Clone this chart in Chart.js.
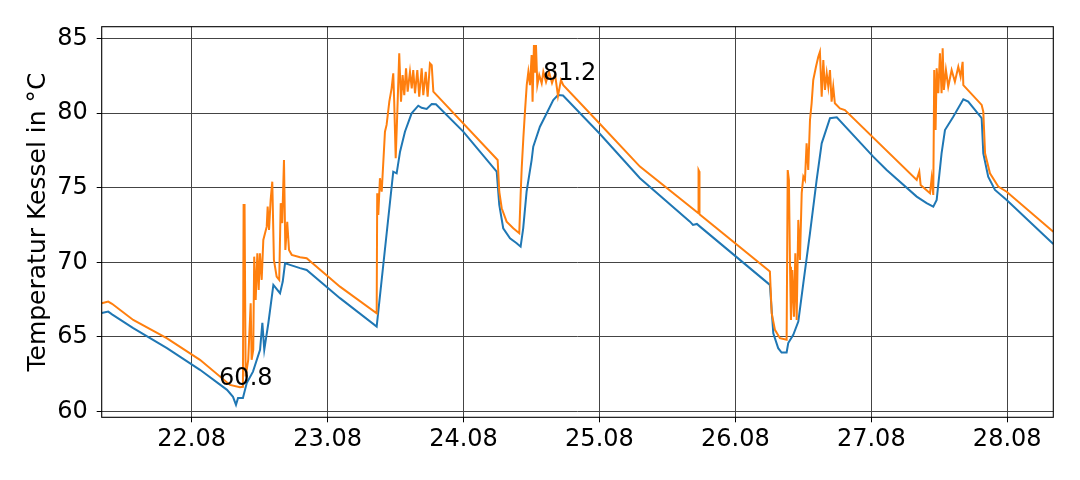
<!DOCTYPE html>
<html>
<head>
<meta charset="utf-8">
<script src="https://cdn.jsdelivr.net/npm/chart.js@4.4.1/dist/chart.umd.min.js"></script>
<style>
  html, body { margin: 0; padding: 0; background: #fff; }
  #chart { display: block; }
</style>
</head>
<body>
<canvas id="chart" width="1080" height="480"></canvas>
<script>
// time axis: days since 21.08 00:00
var tickDays = [1, 2, 3, 4, 5, 6, 7];
var tickLabels = ['22.08', '23.08', '24.08', '25.08', '26.08', '27.08', '28.08'];
var yTicks = [60, 65, 70, 75, 80, 85];

// blue series (Kessel unten)
var blueTime = [0.338, 0.386, 0.414, 0.570, 0.818, 1.061, 1.260, 1.304, 1.326, 1.341,
  1.377, 1.405, 1.451, 1.503, 1.520, 1.534, 1.564, 1.601, 1.650, 1.670,
  1.687, 1.723, 1.797, 1.846, 2.091, 2.361, 2.483, 2.508, 2.533, 2.569,
  2.618, 2.667, 2.692, 2.729, 2.766, 2.797, 2.998, 3.244, 3.263, 3.292,
  3.342, 3.391, 3.420, 3.439, 3.464, 3.501, 3.513, 3.562, 3.612, 3.660,
  3.695, 3.732, 4.004, 4.298, 4.666, 4.688, 4.717, 4.740, 5.254, 5.279,
  5.315, 5.340, 5.377, 5.389, 5.426, 5.463, 5.500, 5.549, 5.598, 5.635,
  5.696, 5.746, 6.014, 6.113, 6.334, 6.407, 6.456, 6.481, 6.517, 6.542,
  6.603, 6.677, 6.713, 6.812, 6.824, 6.860, 6.910, 6.996, 7.339];
var blueTemp = [66.61, 66.70, 66.51, 65.59, 64.25, 62.80, 61.46, 60.99, 60.46, 60.92,
  60.92, 61.91, 62.68, 64.14, 65.94, 64.14, 65.92, 68.49, 67.93, 68.71,
  69.94, 69.83, 69.61, 69.49, 67.60, 65.70, 76.07, 75.96, 77.41, 78.75,
  79.98, 80.49, 80.35, 80.27, 80.60, 80.58, 78.75, 76.07, 73.84, 72.28,
  71.61, 71.28, 71.05, 72.28, 74.73, 76.85, 77.74, 79.08, 79.98, 80.87,
  81.20, 81.17, 78.59, 75.63, 72.72, 72.50, 72.57, 72.39, 68.49, 65.25,
  64.25, 63.96, 63.96, 64.59, 65.14, 66.03, 68.60, 71.95, 75.52, 77.97,
  79.65, 79.71, 77.08, 76.18, 74.40, 73.96, 73.73, 74.18, 77.30, 78.86,
  79.75, 80.92, 80.76, 79.65, 77.30, 75.74, 74.85, 74.18, 71.23];

// orange series (Kessel oben)
var orangeTime = [0.338, 0.386, 0.414, 0.570, 0.816, 1.061, 1.282, 1.355, 1.377, 1.382,
  1.389, 1.397, 1.416, 1.434, 1.441, 1.453, 1.460, 1.471, 1.483, 1.493,
  1.502, 1.515, 1.527, 1.552, 1.559, 1.569, 1.581, 1.593, 1.605, 1.625,
  1.644, 1.655, 1.666, 1.679, 1.689, 1.703, 1.716, 1.736, 1.797, 1.846,
  2.091, 2.361, 2.365, 2.373, 2.385, 2.398, 2.422, 2.434, 2.454, 2.471,
  2.483, 2.490, 2.501, 2.513, 2.527, 2.540, 2.552, 2.564, 2.577, 2.589,
  2.606, 2.619, 2.630, 2.643, 2.660, 2.674, 2.692, 2.704, 2.722, 2.736,
  2.753, 2.766, 2.778, 3.251, 3.263, 3.281, 3.317, 3.366, 3.410, 3.420,
  3.428, 3.440, 3.452, 3.465, 3.477, 3.489, 3.501, 3.508, 3.518, 3.526,
  3.533, 3.543, 3.557, 3.575, 3.587, 3.607, 3.629, 3.651, 3.673, 3.695,
  3.717, 3.734, 4.004, 4.298, 4.726, 4.729, 4.733, 4.736, 5.254, 5.267,
  5.291, 5.328, 5.377, 5.385, 5.394, 5.402, 5.409, 5.419, 5.431, 5.441,
  5.451, 5.463, 5.475, 5.488, 5.500, 5.512, 5.524, 5.536, 5.549, 5.561,
  5.573, 5.593, 5.610, 5.622, 5.635, 5.647, 5.659, 5.672, 5.684, 5.696,
  5.708, 5.720, 5.732, 5.769, 5.806, 6.334, 6.353, 6.363, 6.432, 6.444,
  6.456, 6.463, 6.473, 6.481, 6.493, 6.505, 6.517, 6.525, 6.534, 6.549,
  6.566, 6.591, 6.615, 6.640, 6.657, 6.672, 6.677, 6.812, 6.824, 6.837,
  6.873, 6.934, 6.996, 7.339];
var orangeTemp = [67.26, 67.37, 67.22, 66.14, 64.92, 63.47, 61.79, 61.64, 61.66, 73.84,
  73.84, 62.35, 63.47, 67.26, 63.47, 64.14, 70.38, 67.48, 70.61, 68.15,
  70.61, 68.82, 71.50, 72.39, 73.73, 72.17, 74.18, 75.40, 70.16, 69.04,
  68.82, 73.96, 72.62, 76.85, 70.83, 72.72, 70.83, 70.50, 70.34, 70.27,
  68.37, 66.59, 74.63, 73.18, 75.63, 74.73, 78.75, 79.20, 80.76, 81.65,
  82.66, 80.76, 76.97, 80.09, 84.00, 80.76, 82.54, 81.20, 82.99, 81.43,
  82.76, 81.65, 82.88, 81.32, 82.88, 81.09, 82.99, 81.20, 82.76, 81.09,
  83.33, 83.21, 81.43, 76.85, 74.73, 73.62, 72.72, 72.28, 71.95, 74.51,
  76.30, 78.31, 80.09, 81.87, 82.76, 81.87, 83.88, 80.76, 84.55, 82.76,
  84.55, 81.87, 82.54, 81.99, 82.76, 82.07, 82.74, 82.01, 82.61, 81.14,
  82.21, 81.87, 79.26, 76.41, 73.30, 76.18, 76.10, 73.22, 69.38, 66.59,
  65.48, 64.92, 64.81, 76.18, 75.51, 69.71, 66.14, 69.49, 66.36, 70.61,
  66.14, 72.84, 70.16, 74.63, 75.74, 75.51, 77.97, 76.18, 79.53, 80.65,
  82.21, 83.10, 83.77, 84.10, 81.09, 83.55, 81.54, 82.66, 81.76, 82.88,
  80.76, 81.76, 80.65, 80.31, 80.20, 75.52, 76.07, 75.18, 74.63, 75.63,
  74.51, 82.88, 78.86, 82.99, 81.32, 84.00, 81.32, 84.33, 81.54, 82.88,
  81.76, 82.88, 82.10, 83.10, 82.43, 83.43, 81.87, 80.54, 80.09, 77.30,
  75.96, 75.07, 74.73, 72.05];

// value labels written into the plot
var noteTime = [1.2017, 3.584];
var noteTemp = [61.79, 82.21];
var noteText = ['60.8', '81.2'];

function toPoints(xs, ys) {
  var pts = [];
  for (var i = 0; i < xs.length; i++) pts.push({x: xs[i], y: ys[i]});
  return pts;
}

var FONT = 'DejaVu Sans';
Chart.defaults.font.family = FONT;
Chart.defaults.font.size = 24;
Chart.defaults.color = '#000';

// frame round the plot area + the text labels
var framePlugin = {
  id: 'frame',
  afterDatasetsDraw: function(chart) {
    var ctx = chart.ctx, a = chart.chartArea;
    var xs = chart.scales.x, ys = chart.scales.y;
    ctx.save();
    ctx.fillStyle = '#000';
    ctx.font = '24px "' + FONT + '"';
    ctx.textAlign = 'left';
    ctx.textBaseline = 'alphabetic';
    for (var i = 0; i < noteText.length; i++) {
      ctx.fillText(noteText[i], xs.getPixelForValue(noteTime[i]), ys.getPixelForValue(noteTemp[i]));
    }
    ctx.strokeStyle = '#000';
    ctx.lineWidth = 1.1;
    ctx.strokeRect(a.left, a.top, a.right - a.left, a.bottom - a.top);
    ctx.restore();
  }
};

new Chart(document.getElementById('chart'), {
  type: 'line',
  data: {
    datasets: [{
      label: 'oben',
      data: toPoints(orangeTime, orangeTemp),
      borderColor: '#ff7f0e',
      borderWidth: 2,
      pointRadius: 0,
      tension: 0
    }, {
      label: 'unten',
      data: toPoints(blueTime, blueTemp),
      borderColor: '#1f77b4',
      borderWidth: 2,
      pointRadius: 0,
      tension: 0
    }]
  },
  options: {
    responsive: false,
    animation: false,
    devicePixelRatio: 1,
    layout: { padding: { left: 0, right: 26.7, top: 26.7, bottom: 0 } },
    plugins: { legend: { display: false }, tooltip: { enabled: false } },
    scales: {
      x: {
        type: 'linear',
        min: 0.338,
        max: 7.339,
        afterBuildTicks: function(s) { s.ticks = tickDays.map(function(v) { return {value: v}; }); },
        afterFit: function(s) { s.height = 62.7; },
        ticks: {
          maxRotation: 0,
          padding: 3,
          callback: function(v) { return tickLabels[tickDays.indexOf(v)]; }
        },
        grid: { color: '#444', lineWidth: 1, tickColor: '#000', tickLength: 5 },
        border: { display: false }
      },
      y: {
        min: 59.62,
        max: 85.78,
        afterBuildTicks: function(s) { s.ticks = yTicks.map(function(v) { return {value: v}; }); },
        afterFit: function(s) { s.width = 101.7; },
        ticks: { padding: 9 },
        grid: { color: '#444', lineWidth: 1, tickColor: '#000', tickLength: 5 },
        border: { display: false },
        title: {
          display: true,
          text: 'Temperatur Kessel in °C',
          font: { size: 25 },
          padding: { top: 23, bottom: 0 }
        }
      }
    }
  },
  plugins: [framePlugin]
});
</script>
</body>
</html>
